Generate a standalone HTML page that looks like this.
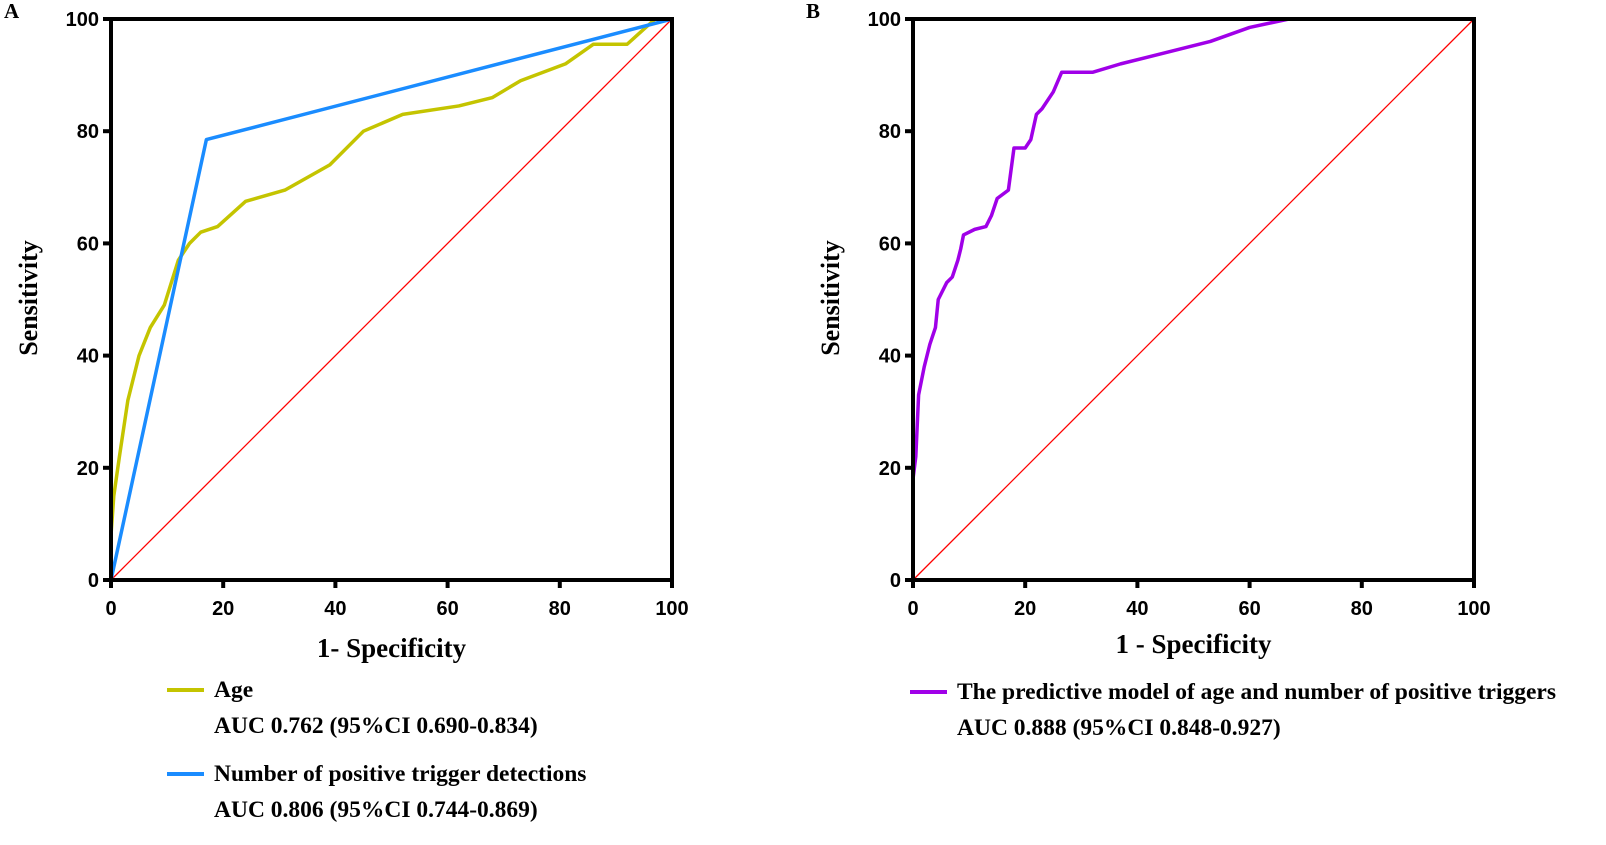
<!DOCTYPE html>
<html><head><meta charset="utf-8"><style>
body{margin:0;background:#fff;width:1606px;height:845px;overflow:hidden}
svg{display:block}
.tk{font-family:"Liberation Sans",sans-serif;font-weight:bold;font-size:20px}
.ti{font-family:"Liberation Serif",serif;font-weight:bold}
</style></head><body>
<svg id="c" width="1606" height="845"></svg>
<script>
const ticks=[0,20,40,60,80,100];
const ageX=[0,0,0.5,1.5,3,5,7,9.5,12,14,16,19,24,31,39,45,52,62,68,73,81,86,92,97,100];
const ageY=[0,8,15,22,32,40,45,49,57,60,62,63,67.5,69.5,74,80,83,84.5,86,89,92,95.5,95.5,100,100];
const numX=[0,17,100];
const numY=[0,78.5,100];
const modX=[0,0,0.5,1,2,3,4,4.5,6,7,8,8.5,9,11,13,14,15,17,18,20,21,22,23,25,26.5,32,37,45,53,60,67,100];
const modY=[0,18,22,33,38,42,45,50,53,54,57,59,61.5,62.5,63,65,68,69.5,77,77,78.5,83,84,87,90.5,90.5,92,94,96,98.5,100,100];
const refX=[0,100], refY=[0,100];
const NS="http://www.w3.org/2000/svg";
const svg=document.getElementById('c');
function el(t,a,p){const e=document.createElementNS(NS,t);for(const k in a)e.setAttribute(k,a[k]);(p||svg).appendChild(e);return e;}
function panel(x0,label,xtitle,xtY,series){
  const g=el('g',{});
  
  
  const sx=v=>x0+v*5.61, sy=v=>580-v*5.61;
  series.forEach(s=>{
    const p=el('polyline',{points:s.x.map((v,i)=>sx(v)+','+sy(s.y[i])).join(' '),fill:'none',stroke:s.c,'stroke-width':s.w,'stroke-linejoin':'round'},g);
    
    
  });
  const ax=el('path',{d:`M${sx(0)},${sy(0)}V${sy(100)}H${sx(100)}V${sy(0)}H${sx(0)}`,fill:'none',stroke:'#000','stroke-width':4},g);
  
  
  ticks.forEach(t=>{
    el('line',{x1:sx(0)-8,x2:sx(0),y1:sy(t),y2:sy(t),stroke:'#000','stroke-width':4},g);
    el('line',{x1:sx(t),x2:sx(t),y1:sy(0),y2:sy(0)+8,stroke:'#000','stroke-width':4},g);
    const yl=el('text',{x:sx(0)-12,y:sy(t)+7,'text-anchor':'end',class:'tk'},g);yl.textContent=t;
    
    
    const xl=el('text',{x:sx(t),y:sy(0)+35,'text-anchor':'middle',class:'tk'},g);xl.textContent=t;
    
    
  });
  const yt=el('text',{x:0,y:0,transform:`translate(${x0-74},298) rotate(-90)`,'text-anchor':'middle',class:'ti','font-size':26},g);yt.textContent='Sensitivity';
  
  
  const xt=el('text',{x:sx(50),y:xtY,'text-anchor':'middle',class:'ti','font-size':27},g);xt.textContent=xtitle;
  
  
  const pl=el('text',{x:x0-107,y:18,class:'ti','font-size':21},g);pl.textContent=label;
  
  
}
panel(111,'A','1- Specificity',657,[
  {x:refX,y:refY,c:'#ff0000',w:1.3,n:'reference-line'},
  {x:ageX,y:ageY,c:'#c4c400',w:3.5,n:'age-curve'},
  {x:numX,y:numY,c:'#1a8cff',w:3.5,n:'positive-triggers-curve'}]);
panel(913,'B','1 - Specificity',653,[
  {x:refX,y:refY,c:'#ff0000',w:1.3,n:'reference-line'},
  {x:modX,y:modY,c:'#a000e8',w:3.5,n:'predictive-model-curve'}]);
function leg(x,y,c,t1,t2,name){
  const g=el('g',{});
  
  
  el('line',{x1:x,x2:x+37,y1:y-7,y2:y-7,stroke:c,'stroke-width':4},g);
  const a=el('text',{x:x+47,y:y,class:'ti','font-size':23.5},g);a.textContent=t1;
  const b=el('text',{x:x+47,y:y+36,class:'ti','font-size':23.5},g);b.textContent=t2;
}
leg(167,697,'#c4c400','Age','AUC 0.762 (95%CI 0.690-0.834)','legend-entry-age');
leg(167,781,'#1a8cff','Number of positive trigger detections','AUC 0.806 (95%CI 0.744-0.869)','legend-entry-triggers');
leg(910,699,'#a000e8','The predictive model of age and number of positive triggers','AUC 0.888 (95%CI 0.848-0.927)','legend-entry-model');
</script>
</body></html>
